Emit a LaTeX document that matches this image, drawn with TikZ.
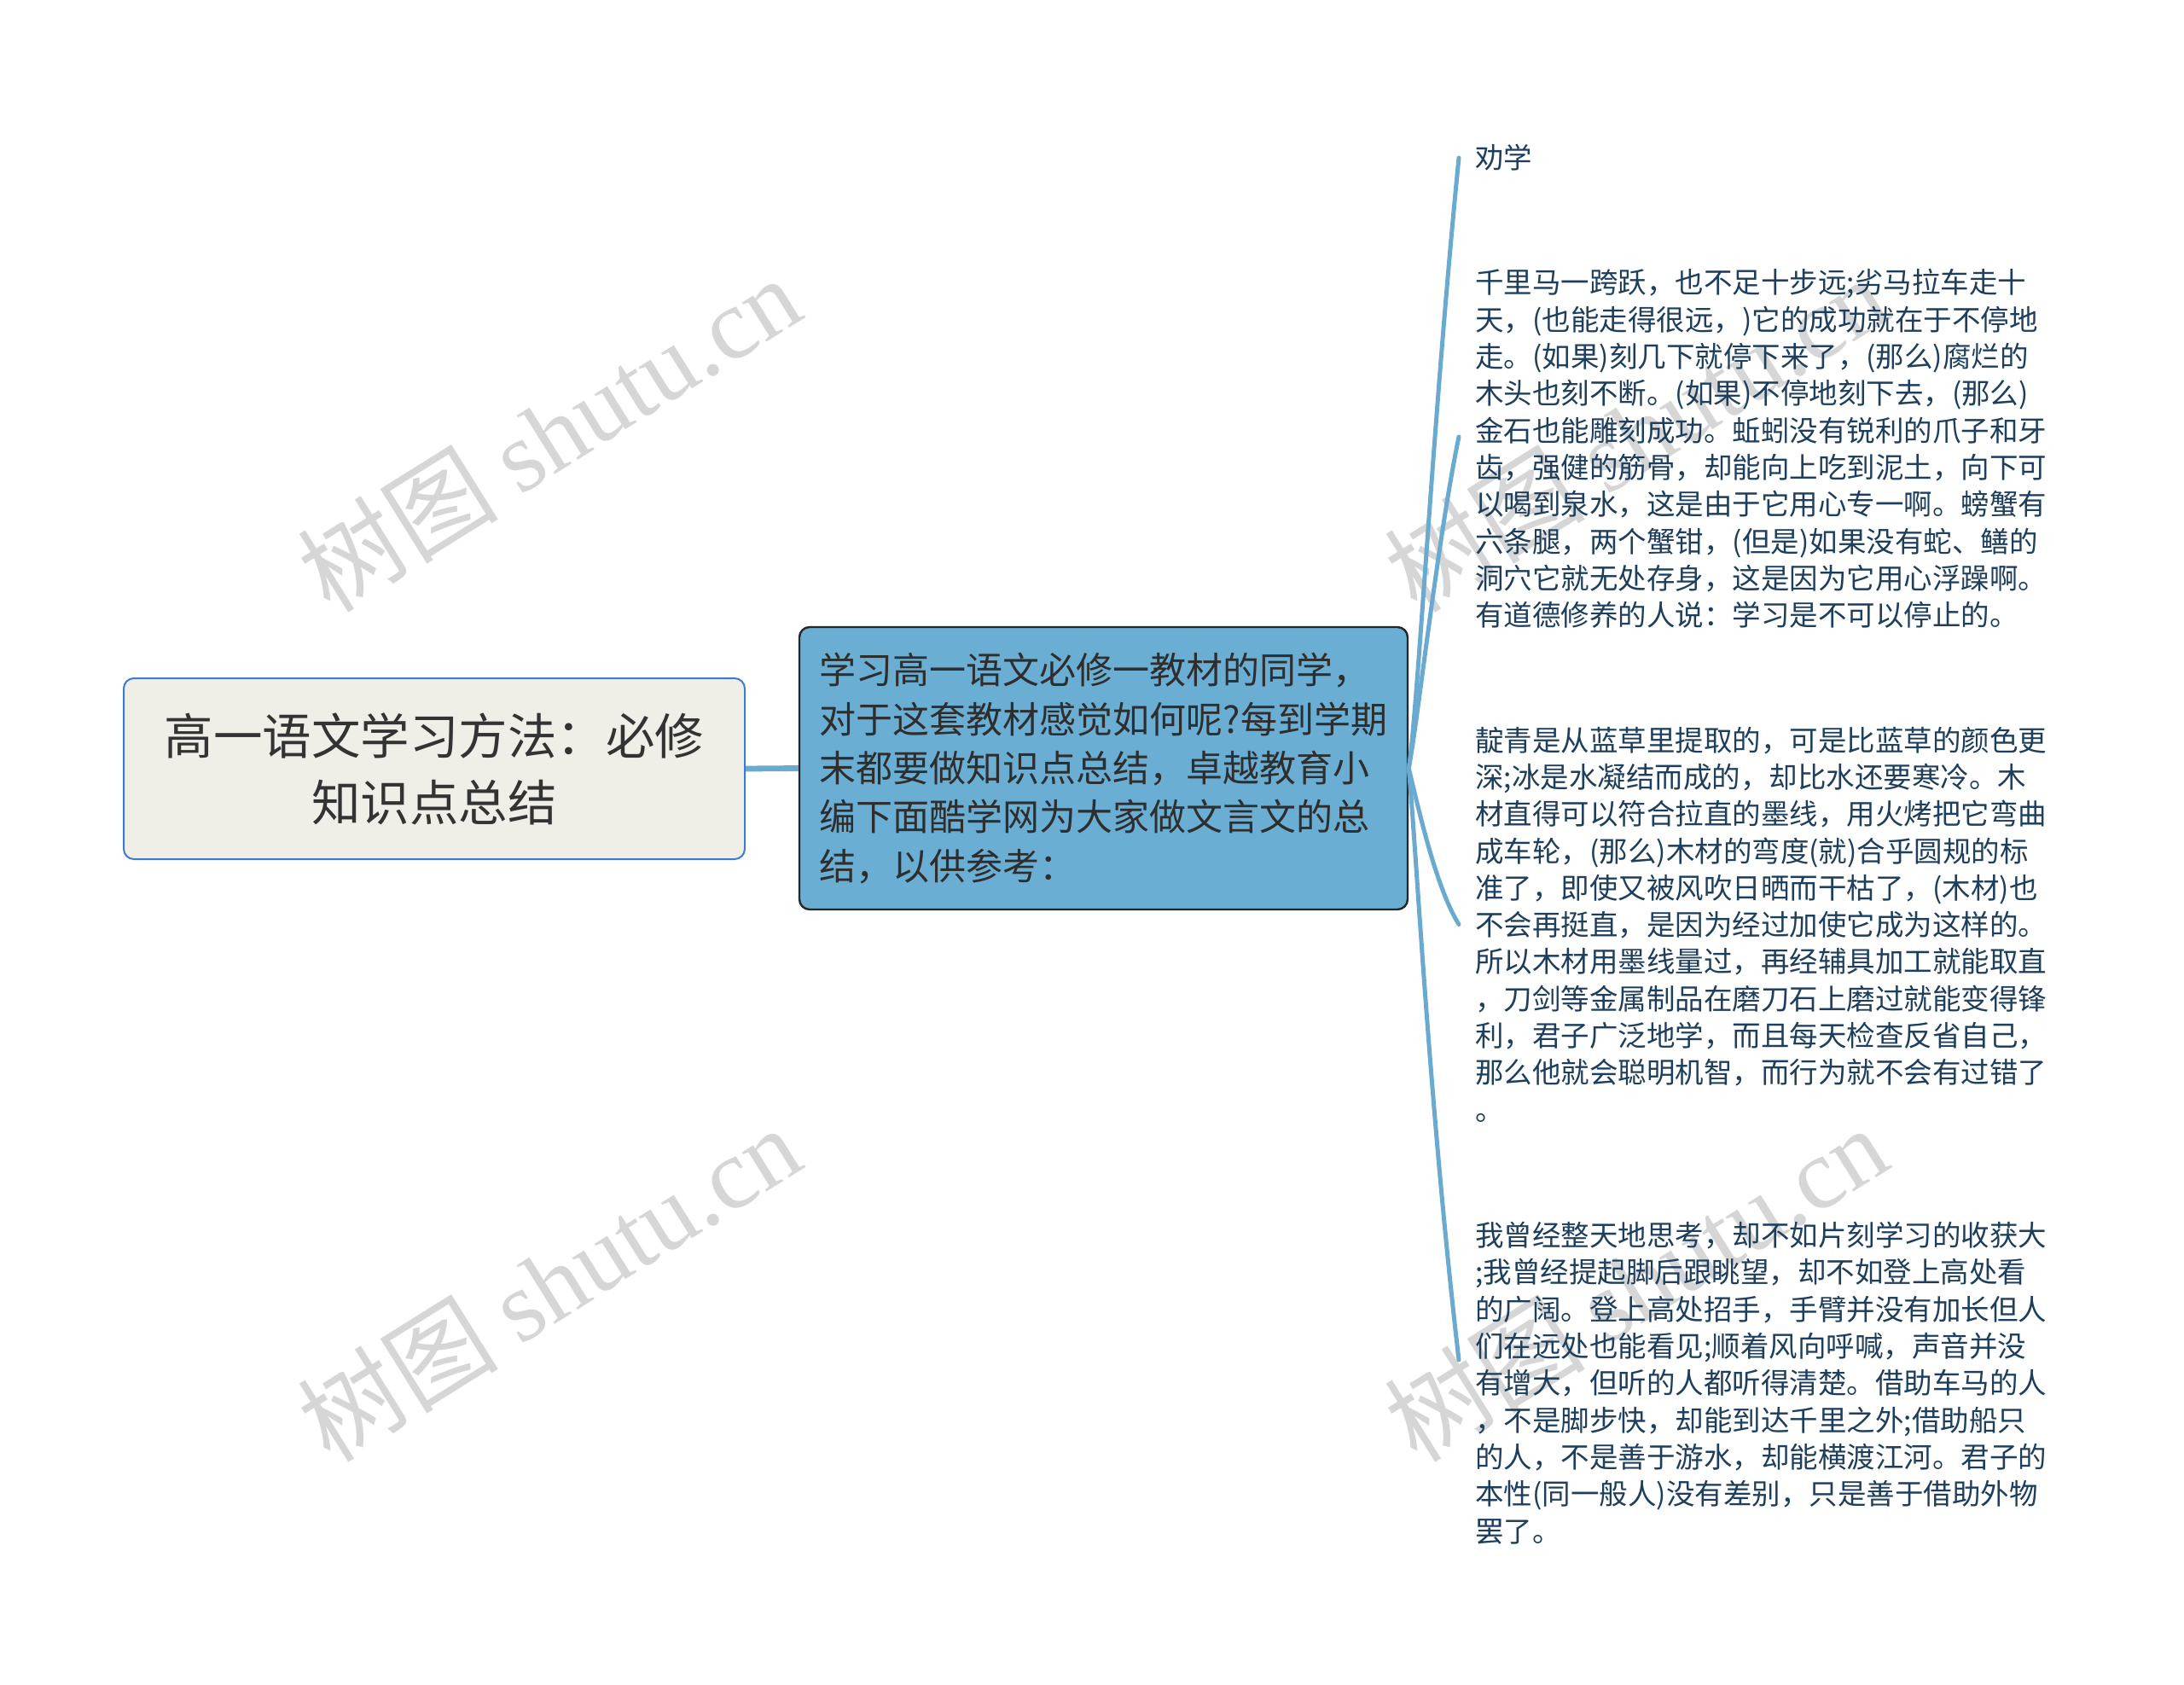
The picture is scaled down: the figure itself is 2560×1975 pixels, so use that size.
\documentclass[tikz,border=0pt]{standalone}
\usepackage{fontspec}
\usepackage{xcolor}
\setmainfont{Noto Sans CJK SC}
\newfontfamily\wmfont{Liberation Serif}
\definecolor{rootfill}{HTML}{EFEFE8}
\definecolor{rootline}{HTML}{3B7BD0}
\definecolor{mainfill}{HTML}{6BAED3}
\definecolor{branchblue}{HTML}{6AAAD0}
\definecolor{leaftext}{HTML}{1D3E5C}
\definecolor{marktext}{HTML}{D6D6D6}

\begin{document}
\begin{tikzpicture}[x = 0.5pt, y = -0.5pt,
            every node/.style = {inner sep = 0pt},
            rootbox/.style = {draw = rootline, line width = 1pt, fill = rootfill, rounded corners = 6pt,
                minimum width = 364pt, minimum height = 106pt, align = center, text = black!80,
                font = \fontsize{28.75}{39}\selectfont},
            mainbox/.style = {draw = black!85, line width = 1.2pt, fill = mainfill, rounded corners = 6pt,
                minimum width = 356.5pt, minimum height = 165.5pt, align = left, text = black!82,
                font = \fontsize{21.5}{28.65}\selectfont},
            leaf/.style = {anchor = west, align = left, inner xsep = 9.5pt, text = leaftext,
                font = \fontsize{16.75}{21.65}\selectfont},
            branch/.style = {draw = branchblue, line width = 2.5pt, line cap = round},
            wmark/.style = {text = marktext, rotate = 32, font = \fontsize{59}{59}\selectfont}
        ]
        \fill[white] (0,0) rectangle (2560,1975);
        \useasboundingbox (0,0) rectangle (2560,1975);

        \node[wmark] (wm1) at (643,508) {树图 {\wmfont shutu.cn}};
        \node[wmark] (wm2) at (1917,508) {树图 {\wmfont shutu.cn}};
        \node[wmark] (wm3) at (643,1504) {树图 {\wmfont shutu.cn}};
        \node[wmark] (wm4) at (1917,1504) {树图 {\wmfont shutu.cn}};

        \node[rootbox] (root) at (509,901) {高一语文学习方法：必修\\知识点总结};
        \node[mainbox] (main) at (1293.5,900.5) {学习高一语文必修一教材的同学，\\
            对于这套教材感觉如何呢?每到学期\\
            末都要做知识点总结，卓越教育小\\
            编下面酷学网为大家做文言文的总\\
            结，以供参考：};

        \node[leaf] (quanxue) at (1710,185) {劝学};
        \node[leaf] (qianli) at (1710,526) {千里马一跨跃，也不足十步远;劣马拉车走十\\
            天，(也能走得很远，)它的成功就在于不停地\\
            走。(如果)刻几下就停下来了，(那么)腐烂的\\
            木头也刻不断。(如果)不停地刻下去，(那么)\\
            金石也能雕刻成功。蚯蚓没有锐利的爪子和牙\\
            齿，强健的筋骨，却能向上吃到泥土，向下可\\
            以喝到泉水，这是由于它用心专一啊。螃蟹有\\
            六条腿，两个蟹钳，(但是)如果没有蛇、鳝的\\
            洞穴它就无处存身，这是因为它用心浮躁啊。\\
            有道德修养的人说：学习是不可以停止的。};
        \node[leaf] (dianqing) at (1710,1083.5) {靛青是从蓝草里提取的，可是比蓝草的颜色更\\
            深;冰是水凝结而成的，却比水还要寒冷。木\\
            材直得可以符合拉直的墨线，用火烤把它弯曲\\
            成车轮，(那么)木材的弯度(就)合乎圆规的标\\
            准了，即使又被风吹日晒而干枯了，(木材)也\\
            不会再挺直，是因为经过加使它成为这样的。\\
            所以木材用墨线量过，再经辅具加工就能取直\\
            ，刀剑等金属制品在磨刀石上磨过就能变得锋\\
            利，君子广泛地学，而且每天检查反省自己，\\
            那么他就会聪明机智，而行为就不会有过错了\\
            。};
        \node[leaf] (wozeng) at (1710,1621) {我曾经整天地思考，却不如片刻学习的收获大\\
            ;我曾经提起脚后跟眺望，却不如登上高处看\\
            的广阔。登上高处招手，手臂并没有加长但人\\
            们在远处也能看见;顺着风向呼喊，声音并没\\
            有增大，但听的人都听得清楚。借助车马的人\\
            ，不是脚步快，却能到达千里之外;借助船只\\
            的人，不是善于游水，却能横渡江河。君子的\\
            本性(同一般人)没有差别，只是善于借助外物\\
            罢了。};

        \draw[draw = branchblue, line width = 3.4pt] (root.east) -- (main.west);
        \draw[branch] (main.east) .. controls +(10,-60) and +(-30,300) .. (quanxue.west);
        \draw[branch] (main.east) .. controls +(10,-50) and +(-25,120) .. ([yshift=7pt]qianli.west);
        \draw[branch] (main.east) .. controls +(10,40) and +(-28,-45) .. (dianqing.west);
        \draw[branch] (main.east) .. controls +(8,80) and +(-35,-300) .. ([yshift=13.5pt]wozeng.west);
    \end{tikzpicture}
\end{document}
